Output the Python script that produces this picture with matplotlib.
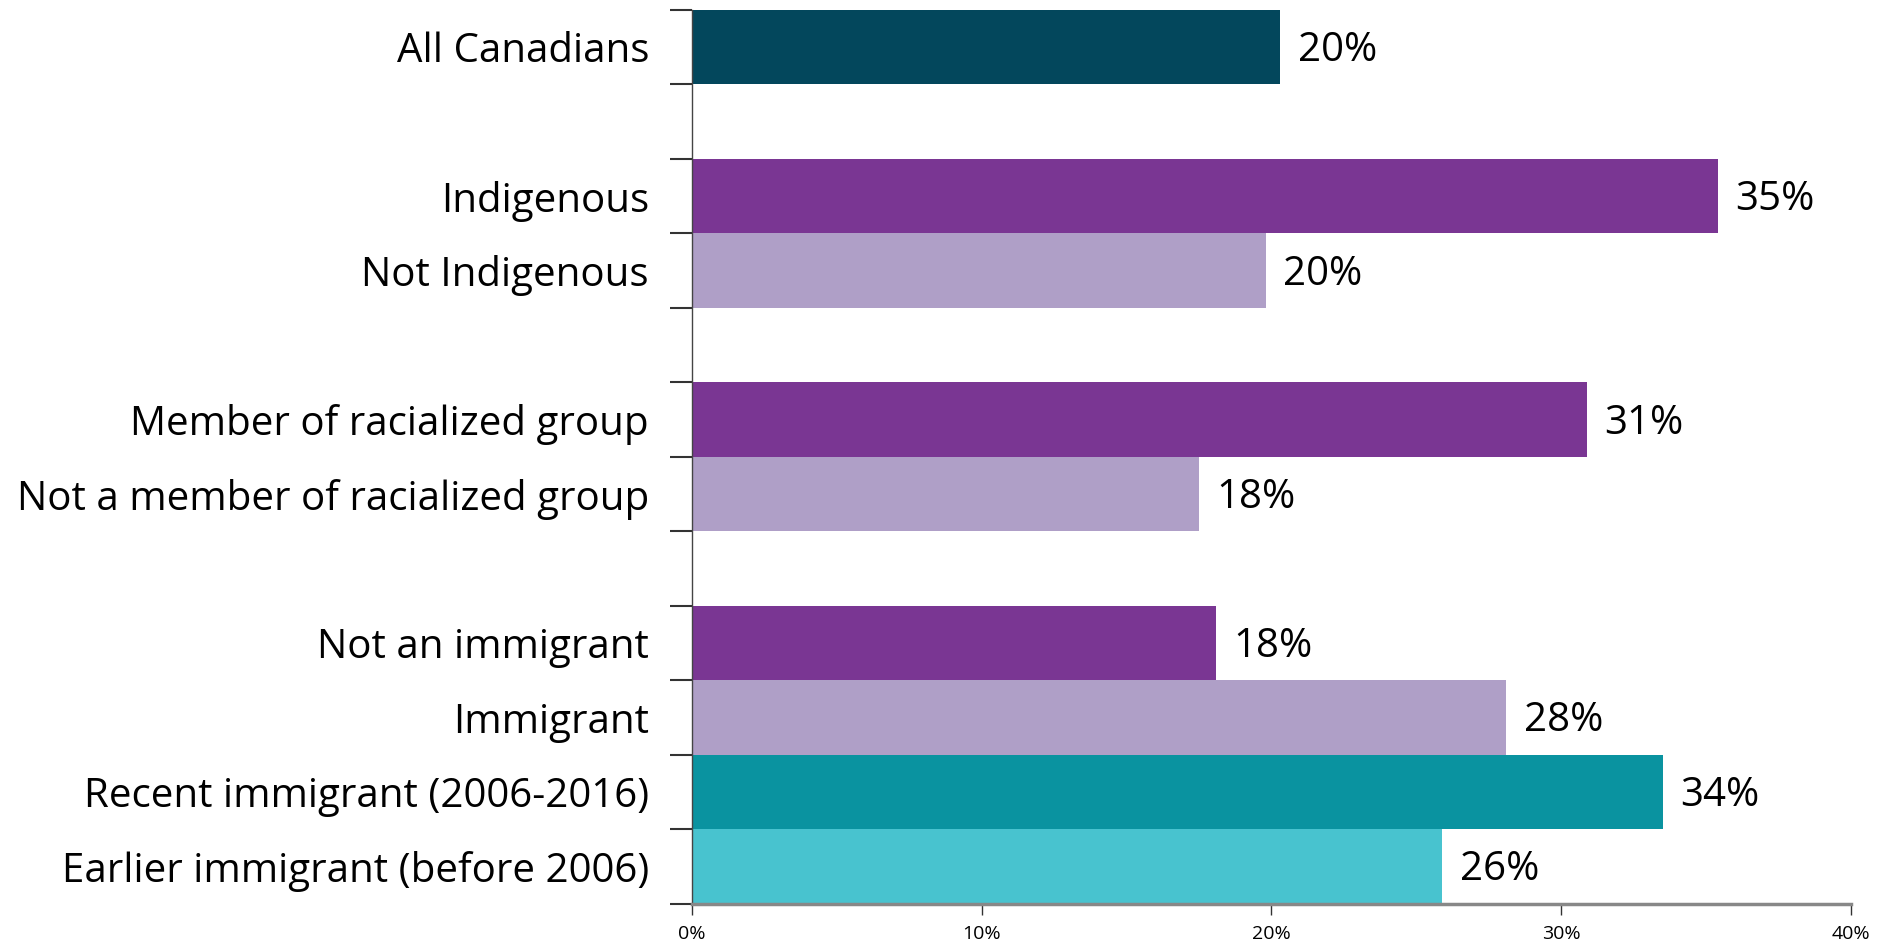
import matplotlib
matplotlib.use("Agg")
import matplotlib.pyplot as plt
from matplotlib.ticker import FixedLocator, PercentFormatter

# data (share, %)
categories = [
    "All Canadians",
    "",
    "Indigenous",
    "Not Indigenous",
    "",
    "Member of racialized group",
    "Not a member of racialized group",
    "",
    "Not an immigrant",
    "Immigrant",
    "Recent immigrant (2006-2016)",
    "Earlier immigrant (before 2006)",
]
values = [20.3, None, 35.4, 19.8, None, 30.9, 17.5, None, 18.1, 28.1, 33.5, 25.9]
labels = ["20%", None, "35%", "20%", None, "31%", "18%", None, "18%", "28%", "34%", "26%"]
bar_colors = [
    "#03475C", None,
    "#7A3693", "#AF9FC7", None,
    "#7A3693", "#AF9FC7", None,
    "#7A3693", "#AF9FC7", "#0A93A0", "#48C3CF",
]
x_ticks = [0, 10, 20, 30, 40]

plt.rcParams["font.family"] = ["Open Sans", "DejaVu Sans"]

fig = plt.figure(figsize=(18.77, 9.43), dpi=100)
ax = fig.add_axes([0.3687, 0.0417, 0.6174, 0.9477])

for i, (v, lab, c) in enumerate(zip(values, labels, bar_colors)):
    if v is None:
        continue
    ax.barh(i, v, height=1.0, color=c, edgecolor="none")
    ax.text(v + 0.6, i + 0.05, lab, va="center", ha="left", fontsize=29, color="black")

ax.set_ylim(len(categories) - 0.5, -0.5)
ax.set_xlim(0, 40)

# labels centred on bars, short ticks at the slot boundaries
ax.set_yticks(range(len(categories)))
ax.set_yticklabels(categories, fontsize=29)
ax.tick_params(axis="y", which="major", length=0, pad=31)
ax.yaxis.set_minor_locator(FixedLocator([i - 0.5 for i in range(len(categories) + 1)]))
ax.tick_params(axis="y", which="minor", length=16, width=1.5, color="#333333")

ax.set_xticks(x_ticks)
ax.xaxis.set_major_formatter(PercentFormatter(decimals=0))
ax.tick_params(axis="x", length=8, width=1, color="#333333", labelsize=14, pad=7)

for side in ["top", "right"]:
    ax.spines[side].set_visible(False)
ax.spines["left"].set_color("#444444")
ax.spines["left"].set_linewidth(1.0)
ax.spines["bottom"].set_color("#888888")
ax.spines["bottom"].set_linewidth(2.5)

fig.savefig("out.png", dpi=100)
